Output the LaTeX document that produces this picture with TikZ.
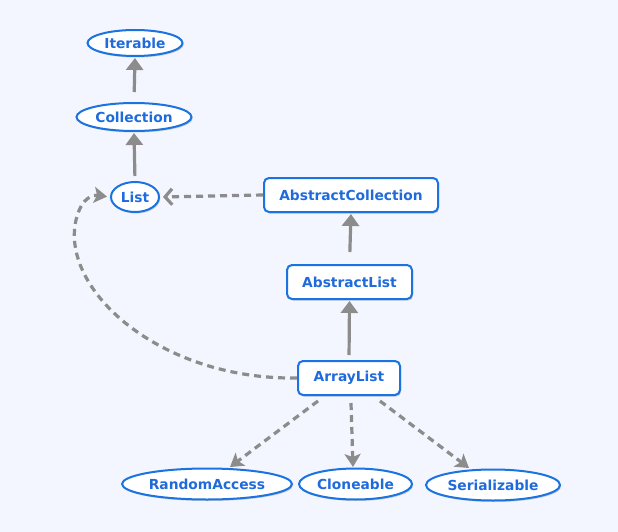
\documentclass[tikz,border=0pt]{standalone}
\usepackage{fontspec}
\setmainfont{DejaVu Sans}
\usetikzlibrary{shapes.geometric,arrows.meta,shadows}
\definecolor{bg}{HTML}{F3F6FE}
\definecolor{bord}{HTML}{1A73E0}
\definecolor{txt}{HTML}{1F6BDB}
\definecolor{arr}{HTML}{8C8C8C}
\begin{document}
\begin{tikzpicture}[x=1pt,y=-1pt,
  base/.style={draw=bord,line width=2pt,fill=white,text=txt,font=\fontsize{13.8}{16}\selectfont\bfseries,
     drop shadow={shadow xshift=1.2pt,shadow yshift=-1.5pt,opacity=0.3,fill=black!60}},
  ell/.style={base,ellipse,inner sep=0pt},
  rbox/.style={base,rectangle,rounded corners=5pt,inner sep=0pt},
  solidarr/.style={draw=arr,line width=3.2pt,-{Triangle[length=12pt,width=17pt]}},
  dasharr/.style={draw=arr,line width=3.2pt,dash pattern=on 7pt off 5pt,-{Stealth[length=13pt,width=16pt,inset=3pt]}},
  openarr/.style={draw=arr,line width=3.2pt,dash pattern=on 7pt off 5pt,-{Straight Barb[length=7pt,width=16pt,line width=3.2pt]}}
]
\fill[bg] (0,0) rectangle (618,532);
\useasboundingbox (0,0) rectangle (618,532);

\node[ell,minimum width=95pt,minimum height=26pt] (iter) at (135,43) {Iterable};
\node[ell,minimum width=115pt,minimum height=28pt] (coll) at (134,117) {Collection};
\node[ell,minimum width=48pt,minimum height=30pt] (list) at (135,197) {List};
\node[rbox,minimum width=174pt,minimum height=34pt] (acoll) at (351,195) {AbstractCollection};
\node[rbox,minimum width=125pt,minimum height=34pt] (alist) at (349.5,282) {AbstractList};
\node[rbox,minimum width=102pt,minimum height=34pt] (arrl) at (349,378) {ArrayList};
\node[ell,minimum width=170pt,minimum height=31pt] (rand) at (207,484) {RandomAccess};
\node[ell,minimum width=113pt,minimum height=31pt] (clon) at (355.5,484) {Cloneable};
\node[ell,minimum width=134pt,minimum height=31pt] (ser) at (493,485) {Serializable};

\draw[solidarr,shorten <=10pt,shorten >=1pt] (coll.north) -- (iter.south);
\draw[solidarr,shorten <=5pt,shorten >=1pt] (list.north) -- (coll.south);
\draw[solidarr,shorten <=12pt,shorten >=1pt] (alist.north) -- (acoll.south);
\draw[solidarr,shorten <=5pt,shorten >=1pt] (arrl.north) -- (alist.south);
\draw[openarr,shorten >=3pt] (acoll.west) -- (list.east);
\draw[dasharr,shorten >=3pt] (arrl.west) .. controls (160,380) and (60,290) .. (76,220) .. controls (82,195) and (95,195) .. (list.west);
\coordinate (s1) at (318,401);
\coordinate (s2) at (351,403);
\coordinate (s3) at (380,401);
\draw[dasharr] (s1) -- (230,467);
\draw[dasharr] (s2) -- (353,467);
\draw[dasharr] (s3) -- (469,468);
\end{tikzpicture}
\end{document}
